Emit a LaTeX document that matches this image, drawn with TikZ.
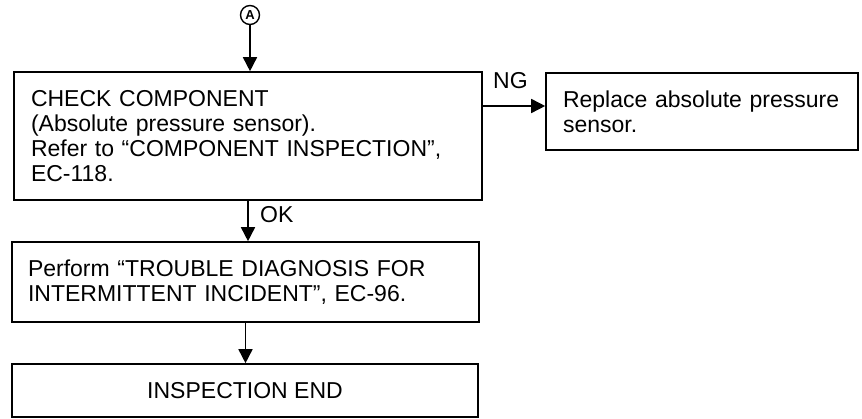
\documentclass[tikz,border=0pt]{standalone}
\usepackage{fontspec}
\setmainfont{Liberation Sans}
\usetikzlibrary{arrows.meta,calc}
\tikzset{
  box/.style={draw, line width=1.6pt, inner xsep=17pt, inner ysep=0pt, align=left,
    font=\fontsize{23}{24.8}\selectfont},
  lbl/.style={inner sep=0pt, anchor=base west, font=\fontsize{23}{24.8}\selectfont},
  arr/.style={line width=1.6pt, -{Triangle[length=14pt,width=14pt]}},
}
\begin{document}
\begin{tikzpicture}[x=1pt,y=-1pt]
\useasboundingbox (0,0) rectangle (862,419);
\node[circle, draw, line width=1.4pt, inner sep=0pt, minimum size=19pt,
  font=\bfseries\fontsize{13}{13}\selectfont] (a) at (250,15) {A};
\node[box, minimum width=468pt, minimum height=128pt, text width=434pt] (b1) at (248,136)
  {CHECK COMPONENT\\(Absolute pressure sensor).\\Refer to “COMPONENT INSPECTION”,\\EC-118.};
\node[box, minimum width=312pt, minimum height=77pt, text width=278pt, inner xsep=17pt] (b2) at (702,111.5)
  {\makebox[278pt][l]{Replace absolute pressure}\\sensor.};
\node[box, minimum width=467pt, minimum height=80pt, text width=435pt, inner xsep=16pt] (b3) at (245.5,282)
  {Perform “TROUBLE DIAGNOSIS FOR\\INTERMITTENT INCIDENT”, EC-96.};
\node[box, minimum width=466pt, minimum height=53pt, align=center] (b4) at (245,390.5)
  {INSPECTION END};
\draw[arr] (a.south) -- (a.south |- b1.north);
\coordinate (ng) at (b1.east |- 0,106);
\draw[arr] (ng) -- (ng -| b2.west);
\node[lbl] (nglbl) at (493,89) {NG};
\draw[arr] (b1.south) -- (b1.south |- b3.north);
\node[lbl] (oklbl) at (260,223) {OK};
\draw[arr] (b3.south) -- (b3.south |- b4.north);
\end{tikzpicture}
\end{document}
